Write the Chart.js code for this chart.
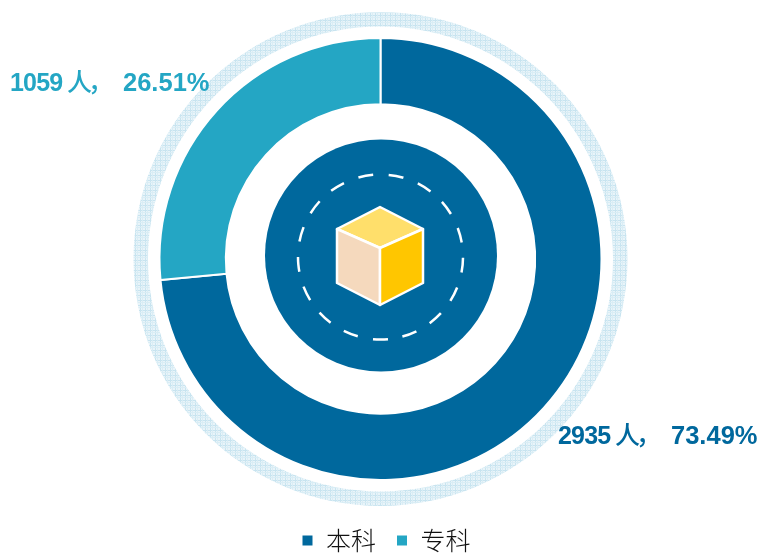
<!DOCTYPE html>
<html>
<head>
<meta charset="utf-8">
<style>
  html, body { margin: 0; padding: 0; background: #fff; }
  #wrap { width: 761px; height: 553px; }
</style>
<script src="https://cdn.jsdelivr.net/npm/chart.js@4"></script>
</head>
<body>
<div id="wrap"><canvas id="chart" width="761" height="553"></canvas></div>
<script>
const categories = ['本科', '专科'];
const people = [2935, 1059];
const percents = ['73.49%', '26.51%'];
const colors = ['#00689d', '#24a6c4'];

// a small tile for the pale hatched ring
function hatchPattern(ctx) {
    const tile = document.createElement('canvas');
    tile.width = 5;
    tile.height = 5;
    const t = tile.getContext('2d');
    t.fillStyle = '#e9f4f9';
    t.fillRect(0, 0, 5, 5);
    t.fillStyle = '#c8e4f0';
    t.fillRect(0, 0, 1, 5);
    t.fillRect(0, 0, 5, 1);
    t.fillStyle = '#d9edf5';
    t.fillRect(2, 0, 1, 5);
    t.fillRect(0, 2, 5, 1);
    return ctx.createPattern(tile, 'repeat');
}

function polygon(ctx, pts, fill) {
    ctx.beginPath();
    pts.forEach((p, i) => i ? ctx.lineTo(p[0], p[1]) : ctx.moveTo(p[0], p[1]));
    ctx.closePath();
    ctx.fillStyle = fill;
    ctx.fill();
    ctx.stroke();
}

const decorations = {
    id: 'decorations',
    // legend sits a bit lower and to the right of where the layout puts it
    afterLayout(chart) {
        const legend = chart.legend;
        legend.left += 5.5;
        legend.right += 5.5;
        legend.top += 10;
        legend.bottom += 10;
    },
    beforeDatasetsDraw(chart) {
        const ctx = chart.ctx;
        const arc = chart.getDatasetMeta(0).data[0];
        const cx = arc.x, cy = arc.y;
        ctx.save();

        // outer hatched ring
        ctx.beginPath();
        ctx.arc(cx, cy, 247, 0, Math.PI * 2);
        ctx.arc(cx, cy, 232.5, 0, Math.PI * 2, true);
        ctx.fillStyle = hatchPattern(ctx);
        ctx.fill();

        // inner disc
        ctx.beginPath();
        ctx.arc(cx + 0.5, cy - 3.5, 116, 0, Math.PI * 2);
        ctx.fillStyle = colors[0];
        ctx.fill();

        // dashed circle, one dash centred at the bottom
        const dashR = 82.5;
        const period = 2 * Math.PI * dashR / 17;
        ctx.beginPath();
        ctx.arc(cx, cy - 2, dashR, Math.PI / 2 - 7.5 / dashR, Math.PI / 2 - 7.5 / dashR + Math.PI * 2);
        ctx.setLineDash([15, period - 15]);
        ctx.strokeStyle = '#fff';
        ctx.lineWidth = 2.5;
        ctx.stroke();
        ctx.setLineDash([]);

        // cube
        const pt = (dx, dy) => [cx - 0.5 + dx, cy + dy];
        ctx.lineWidth = 2.5;
        ctx.lineJoin = 'round';
        polygon(ctx, [pt(0, -52), pt(43, -30), pt(0, -11), pt(-43, -30)], '#ffdf6b');
        polygon(ctx, [pt(-43, -30), pt(0, -11), pt(0, 46), pt(-43, 24)], '#f5d9bd');
        polygon(ctx, [pt(43, -30), pt(0, -11), pt(0, 46), pt(43, 24)], '#ffc600');
        ctx.restore();
    },
    afterDatasetsDraw(chart) {
        const ctx = chart.ctx;
        ctx.save();
        ctx.textBaseline = 'alphabetic';
        ctx.textAlign = 'left';
        // value labels, x positions per piece of text
        const place = [[558, 444], [10, 91]];
        categories.forEach((name, i) => {
            const x = place[i][0], y = place[i][1];
            ctx.fillStyle = colors[i];
            ctx.font = 'bold 25px "Liberation Sans"';
            ctx.letterSpacing = '-0.8px';
            ctx.fillText(String(people[i]), x, y);
            ctx.letterSpacing = '0px';
            ctx.font = 'bold 25.5px "Liberation Sans"';
            ctx.fillText(percents[i], x + 113, y);
            ctx.font = '500 25px "Noto Sans CJK SC"';
            ctx.fillText('人', x + 57, y);
            ctx.fillText('，', x + 78, y);
        });
        ctx.restore();
    }
};

new Chart(document.getElementById('chart'), {
    type: 'doughnut',
    data: {
        labels: categories,
        datasets: [{
            data: people,
            backgroundColor: colors,
            borderColor: '#fff',
            borderWidth: 2,
            radius: 221,
            cutout: '70%'
        }]
    },
    options: {
        responsive: false,
        animation: false,
        layout: { padding: { left: 0, right: 0, top: 20, bottom: 0 } },
        plugins: {
            tooltip: { enabled: false },
            legend: {
                position: 'bottom',
                labels: {
                    boxWidth: 12,
                    boxHeight: 12,
                    padding: 20,
                    color: '#111',
                    font: { family: '"Noto Sans CJK SC"', size: 25, weight: '300' }
                }
            }
        }
    },
    plugins: [decorations]
});
</script>
</body>
</html>
